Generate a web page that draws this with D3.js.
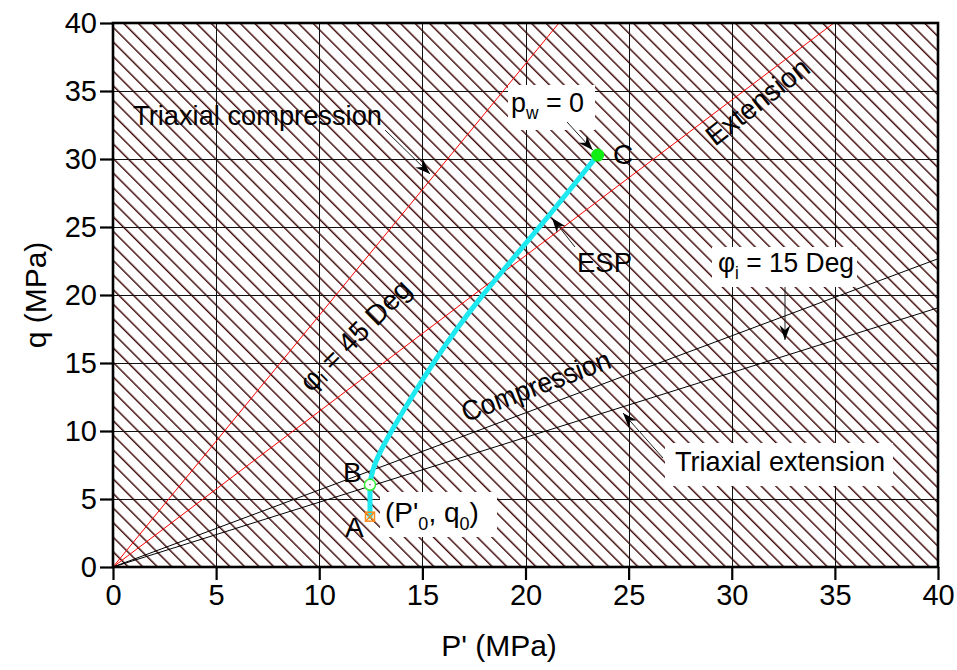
<!DOCTYPE html>
<html>
<head>
<meta charset="utf-8">
<script src="https://cdn.jsdelivr.net/npm/d3@7"></script>
<style>
  html, body { margin: 0; padding: 0; background: #fff; }
  svg text { font-family: "Liberation Sans", Arial, sans-serif; fill: #000; }
</style>
</head>
<body>
<svg id="chart" width="957" height="670"></svg>
<script>
// Axis ticks (MPa)
const pTicks = [0, 5, 10, 15, 20, 25, 30, 35, 40];
const qTicks = [0, 5, 10, 15, 20, 25, 30, 35, 40];

// Failure envelopes through the origin: q = M * p'
const envelopeNames  = ["Triaxial compression 45", "Extension 45", "Compression 15", "Triaxial extension 15"];
const envelopeSlopes = [1.85, 1.1445, 0.5666, 0.4765];
const envelopeColors = ["#ff0000", "#ff0000", "#000000", "#000000"];

// Effective stress path (ESP) from A through B to C
const espP = [12.46, 12.46, 12.58, 12.90, 13.72, 14.69, 15.71, 16.73, 17.82, 18.91, 20.07, 21.24, 22.38, 23.50];
const espQ = [3.70, 6.18, 7.13, 8.38, 10.59, 13.01, 15.44, 17.65, 19.82, 21.80, 23.90, 26.03, 28.16, 30.29];

// Key states
const stateNames = ["A", "B", "C"];
const stateP = [12.46, 12.46, 23.50];
const stateQ = [3.70, 6.05, 30.29];

(function () {
const svg = d3.select("#chart");
const L = 113, R = 938, T = 23, B = 567;

const x = d3.scaleLinear().domain([0, 40]).range([L, R]);
const y = d3.scaleLinear().domain([0, 40]).range([B, T]);

const defs = svg.append("defs");

// diagonal hatch fill of the plot area
const hatch = defs.append("pattern")
  .attr("id", "hatch")
  .attr("patternUnits", "userSpaceOnUse")
  .attr("width", 10.3).attr("height", 10.3)
  .attr("patternTransform", "translate(" + L + "," + T + ") rotate(45)");
hatch.append("line")
  .attr("x1", 0).attr("x2", 10.3).attr("y1", 3).attr("y2", 3)
  .attr("stroke", "#3a0000").attr("stroke-width", 1.4);

defs.append("clipPath").attr("id", "plotClip")
  .append("rect").attr("x", L).attr("y", T)
  .attr("width", R - L).attr("height", B - T);

defs.append("marker")
  .attr("id", "arrow")
  .attr("viewBox", "-16 -7 18 14")
  .attr("refX", 0).attr("refY", 0)
  .attr("markerWidth", 18).attr("markerHeight", 14)
  .attr("markerUnits", "userSpaceOnUse")
  .attr("orient", "auto")
  .append("path")
  .attr("d", "M0,0 L-15,-5.5 L-10,0 L-15,5.5 Z")
  .attr("fill", "#000");

// background hatch
svg.append("rect")
  .attr("x", L).attr("y", T)
  .attr("width", R - L).attr("height", B - T)
  .attr("fill", "url(#hatch)");

// grid
const grid = svg.append("g").attr("stroke", "#111").attr("stroke-width", 1);
grid.selectAll("line.v").data(pTicks.slice(1, -1)).join("line")
  .attr("class", "v")
  .attr("x1", d => Math.round(x(d)) + 0.5).attr("x2", d => Math.round(x(d)) + 0.5)
  .attr("y1", T).attr("y2", B);
grid.selectAll("line.h").data(qTicks.slice(1, -1)).join("line")
  .attr("class", "h")
  .attr("y1", d => Math.round(y(d)) + 0.5).attr("y2", d => Math.round(y(d)) + 0.5)
  .attr("x1", L).attr("x2", R);

const plot = svg.append("g").attr("clip-path", "url(#plotClip)");

// envelopes
plot.selectAll("line.env").data(envelopeSlopes).join("line")
  .attr("class", "env")
  .attr("x1", x(0)).attr("y1", y(0))
  .attr("x2", x(40)).attr("y2", d => y(40 * d))
  .attr("stroke", (d, i) => envelopeColors[i])
  .attr("stroke-width", 1);

// white label boxes
function box(x0, y0, x1, y1) {
  svg.append("rect").attr("x", x0).attr("y", y0)
    .attr("width", x1 - x0).attr("height", y1 - y0)
    .attr("fill", "#fff");
}
box(508, 85, 595, 130);     // p_w = 0
box(712, 247, 857, 287);    // phi_i = 15 Deg
box(665, 443, 893, 486);    // Triaxial extension
box(380, 492, 497, 537);    // (P'0, q0)

// ESP: straight A-B leg, then smooth B-C path
const espPts = espP.map((p, i) => [p, espQ[i]]);
const legAB = d3.line().x(d => x(d[0])).y(d => y(d[1]));
const legBC = d3.line().x(d => x(d[0])).y(d => y(d[1])).curve(d3.curveBasis);
const espG = svg.append("g")
  .attr("fill", "none")
  .attr("stroke", "#1ee8f0")
  .attr("stroke-width", 5)
  .attr("stroke-linecap", "round");
espG.append("path").attr("d", legAB(espPts.slice(0, 2)));
espG.append("path").attr("d", legBC(espPts.slice(1)));

// state markers
const sA = [x(stateP[0]), y(stateQ[0])];
const mA = svg.append("g").attr("stroke", "#ff8a1a").attr("stroke-width", 1.5).attr("fill", "none");
mA.append("rect").attr("x", sA[0] - 4.5).attr("y", sA[1] - 4.5).attr("width", 9).attr("height", 9);
mA.append("path").attr("d", `M${sA[0]-4.5},${sA[1]-4.5}L${sA[0]+4.5},${sA[1]+4.5}M${sA[0]+4.5},${sA[1]-4.5}L${sA[0]-4.5},${sA[1]+4.5}`);

svg.append("circle")
  .attr("cx", x(stateP[1])).attr("cy", y(stateQ[1])).attr("r", 5.5)
  .attr("fill", "#fff").attr("stroke", "#33ee33").attr("stroke-width", 1.5);
svg.append("circle")
  .attr("cx", x(stateP[1])).attr("cy", y(stateQ[1])).attr("r", 0.8)
  .attr("fill", "#555");

svg.append("circle")
  .attr("cx", x(stateP[2])).attr("cy", y(stateQ[2])).attr("r", 6.5)
  .attr("fill", "#11ee11");

// annotation text
const FS = 28;
function label(px, py, str, len) {
  const t = svg.append("text")
    .attr("x", px).attr("y", py)
    .attr("font-size", FS)
    .text(str);
  if (len) t.attr("textLength", len).attr("lengthAdjust", "spacingAndGlyphs");
  return t;
}
function arrow(x1, y1, x2, y2) {
  svg.append("line")
    .attr("x1", x1).attr("y1", y1).attr("x2", x2).attr("y2", y2)
    .attr("stroke", "#222").attr("stroke-width", 1)
    .attr("marker-end", "url(#arrow)");
}

label(x(0.97), y(32.5), "Triaxial compression", 249);
arrow(x(13.19), y(32.13), x(15.37), y(28.90));

// p_w = 0
const pw = svg.append("text").attr("x", 511).attr("y", 112).attr("font-size", FS)
  .attr("textLength", 73).attr("lengthAdjust", "spacingAndGlyphs");
pw.append("tspan").text("p");
pw.append("tspan").attr("font-size", 18).attr("dy", 7).text("w");
pw.append("tspan").attr("dy", -7).text(" = 0");
arrow(567, 122, x(stateP[2]) - 5, y(stateQ[2]) - 5);

label(613, 164, "C");

// Extension, along the 45 deg extension line
svg.append("text")
  .attr("transform", "translate(715,147) rotate(-38)")
  .attr("font-size", FS).text("Extension");

// phi_i = 45 Deg
const p45 = svg.append("text")
  .attr("transform", `translate(${x(11.73)},${y(17.06)}) rotate(-45)`)
  .attr("text-anchor", "middle").attr("dominant-baseline", "central")
  .attr("font-size", FS);
p45.append("tspan").text("φ");
p45.append("tspan").attr("font-size", 18).attr("dy", 7).text("i");
p45.append("tspan").attr("dy", -7).text(" = 45 Deg");

// ESP
label(577, 272, "ESP", 55);
arrow(575, 247, 552, 218);

// phi_i = 15 Deg
const p15 = svg.append("text").attr("x", 718).attr("y", 272).attr("font-size", FS)
  .attr("textLength", 136).attr("lengthAdjust", "spacingAndGlyphs");
p15.append("tspan").text("φ");
p15.append("tspan").attr("font-size", 18).attr("dy", 7).text("i");
p15.append("tspan").attr("dy", -7).text(" = 15 Deg");
arrow(785, 287, 785, 340);

// Compression, along the 15 deg compression line
svg.append("text")
  .attr("transform", `translate(${x(20.51)},${y(13.31)}) rotate(-20.5)`)
  .attr("text-anchor", "middle").attr("dominant-baseline", "central")
  .attr("font-size", FS)
  .attr("textLength", 157).attr("lengthAdjust", "spacingAndGlyphs")
  .text("Compression");

// Triaxial extension
label(675, 471, "Triaxial extension", 210);
arrow(663, 458, 623, 413);

label(343, 482, "B");
label(345, 537, "A");

const p0 = svg.append("text").attr("x", 385).attr("y", 522).attr("font-size", FS);
p0.append("tspan").text("(P'");
p0.append("tspan").attr("font-size", 18).attr("dy", 8).text("0");
p0.append("tspan").attr("dy", -8).text(", q");
p0.append("tspan").attr("font-size", 18).attr("dy", 8).text("0");
p0.append("tspan").attr("dy", -8).text(")");

// axes
const xAxis = svg.append("g")
  .attr("transform", `translate(0,${B})`)
  .call(d3.axisBottom(x).tickValues(pTicks).tickSize(13).tickPadding(4).tickFormat(d3.format("d")));
const yAxis = svg.append("g")
  .attr("transform", `translate(${L},0)`)
  .call(d3.axisLeft(y).tickValues(qTicks).tickSize(13).tickPadding(3).tickFormat(d3.format("d")));
[xAxis, yAxis].forEach(g => {
  g.select(".domain").remove();
  g.selectAll(".tick line").attr("stroke", "#000").attr("stroke-width", 2.2);
  g.selectAll(".tick text").attr("font-size", 29)
    .attr("font-family", "Liberation Sans, Arial, sans-serif").attr("fill", "#000");
});

// frame
svg.append("rect")
  .attr("x", L).attr("y", T)
  .attr("width", R - L).attr("height", B - T)
  .attr("fill", "none").attr("stroke", "#000").attr("stroke-width", 2.6);

// axis titles
svg.append("text")
  .attr("x", 499).attr("y", 656)
  .attr("text-anchor", "middle").attr("font-size", 30)
  .text("P' (MPa)");
svg.append("text")
  .attr("transform", `translate(46,295) rotate(-90)`)
  .attr("text-anchor", "middle").attr("font-size", 30)
  .text("q (MPa)");
})();
</script>
</body>
</html>
